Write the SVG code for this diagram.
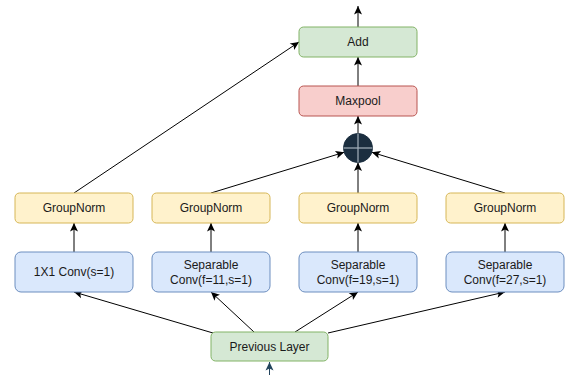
<svg xmlns="http://www.w3.org/2000/svg" width="574" height="375" viewBox="0 0 574 375">
  <style>
    .box { stroke-width: 1; }
    .green { fill: #d5e8d4; stroke: #82b366; }
    .red { fill: #f8cecc; stroke: #b85450; }
    .yellow { fill: #fff2cc; stroke: #d6b656; }
    .blue { fill: #dae8fc; stroke: #6c8ebf; }
    text { font-family: "Liberation Sans", Arial, sans-serif; font-size: 12px; fill: #1a1a1a; text-anchor: middle; }
    .edge { fill: none; stroke: #000; stroke-width: 1; }
  </style>
  <defs>
    <marker id="arrow" markerUnits="userSpaceOnUse" markerWidth="10" markerHeight="10" viewBox="0 0 10 10" refX="9" refY="5" orient="auto">
      <path d="M0.5,1 L9,5 L0.5,9 L2.5,5 z" fill="#000"/>
    </marker>
    <marker id="arrowBlue" markerUnits="userSpaceOnUse" markerWidth="10" markerHeight="10" viewBox="0 0 10 10" refX="9" refY="5" orient="auto">
      <path d="M0.5,1 L9,5 L0.5,9 L2.5,5 z" fill="#23445d"/>
    </marker>
  </defs>

  <!-- all connectors -->
  <g id="connectors">
    <line class="edge" x1="358" y1="27" x2="358" y2="6" marker-end="url(#arrow)"/>
    <line class="edge" x1="358" y1="86" x2="358" y2="57" marker-end="url(#arrow)"/>
    <line class="edge" x1="358" y1="133.5" x2="358" y2="116" marker-end="url(#arrow)"/>
    <line class="edge" x1="74" y1="193" x2="299" y2="42" marker-end="url(#arrow)"/>
    <line class="edge" x1="211" y1="193" x2="344.2" y2="152.3" marker-end="url(#arrow)"/>
    <line class="edge" x1="358" y1="193" x2="358" y2="162.5" marker-end="url(#arrow)"/>
    <line class="edge" x1="505" y1="193" x2="371.8" y2="152.3" marker-end="url(#arrow)"/>
    <line class="edge" x1="74" y1="252" x2="74" y2="223" marker-end="url(#arrow)"/>
    <line class="edge" x1="211" y1="252" x2="211" y2="223" marker-end="url(#arrow)"/>
    <line class="edge" x1="358" y1="252" x2="358" y2="223" marker-end="url(#arrow)"/>
    <line class="edge" x1="505" y1="252" x2="505" y2="223" marker-end="url(#arrow)"/>
    <line class="edge" x1="213" y1="333" x2="74" y2="292" marker-end="url(#arrow)"/>
    <line class="edge" x1="254" y1="332" x2="211" y2="292" marker-end="url(#arrow)"/>
    <line class="edge" x1="295" y1="332" x2="358" y2="292" marker-end="url(#arrow)"/>
    <line class="edge" x1="328" y1="333" x2="505" y2="292" marker-end="url(#arrow)"/>
    <line class="edge" style="stroke:#23445d" x1="269.5" y1="375" x2="269.5" y2="362" marker-end="url(#arrowBlue)"/>
  </g>

  <g id="add">
    <rect class="box green" x="299" y="27" width="118" height="30" rx="4.5"/>
    <text x="358" y="46">Add</text>
  </g>
  <g id="maxpool">
    <rect class="box red" x="299" y="86" width="118" height="30" rx="4.5"/>
    <text x="358" y="105">Maxpool</text>
  </g>
  <!-- summation junction -->
  <g id="concat">
    <circle cx="358" cy="148" r="14.5" fill="#1b2e3f" stroke="#1b2e3f"/>
    <line x1="343.5" y1="148" x2="372.5" y2="148" stroke="#a7b2bc" stroke-width="1.2"/>
    <line x1="358" y1="133.5" x2="358" y2="162.5" stroke="#a7b2bc" stroke-width="1.2"/>
  </g>

  <g id="groupnorm1">
    <rect class="box yellow" x="15" y="193" width="118" height="30" rx="4.5"/>
    <text x="74" y="212">GroupNorm</text>
  </g>
  <g id="groupnorm2">
    <rect class="box yellow" x="152" y="193" width="118" height="30" rx="4.5"/>
    <text x="211" y="212">GroupNorm</text>
  </g>
  <g id="groupnorm3">
    <rect class="box yellow" x="299" y="193" width="118" height="30" rx="4.5"/>
    <text x="358" y="212">GroupNorm</text>
  </g>
  <g id="groupnorm4">
    <rect class="box yellow" x="446" y="193" width="118" height="30" rx="4.5"/>
    <text x="505" y="212">GroupNorm</text>
  </g>

  <g id="conv1x1">
    <rect class="box blue" x="15" y="252" width="118" height="40" rx="6"/>
    <text x="74" y="276">1X1 Conv(s=1)</text>
  </g>
  <g id="sepconv11">
    <rect class="box blue" x="152" y="252" width="118" height="40" rx="6"/>
    <text x="211" y="269">Separable</text>
    <text x="211" y="284">Conv(f=11,s=1)</text>
  </g>
  <g id="sepconv19">
    <rect class="box blue" x="299" y="252" width="118" height="40" rx="6"/>
    <text x="358" y="269">Separable</text>
    <text x="358" y="284">Conv(f=19,s=1)</text>
  </g>
  <g id="sepconv27">
    <rect class="box blue" x="446" y="252" width="118" height="40" rx="6"/>
    <text x="505" y="269">Separable</text>
    <text x="505" y="284">Conv(f=27,s=1)</text>
  </g>

  <g id="previous-layer">
    <rect class="box green" x="211" y="332" width="117" height="29" rx="4.5"/>
    <text x="269.5" y="351">Previous Layer</text>
  </g>
</svg>
